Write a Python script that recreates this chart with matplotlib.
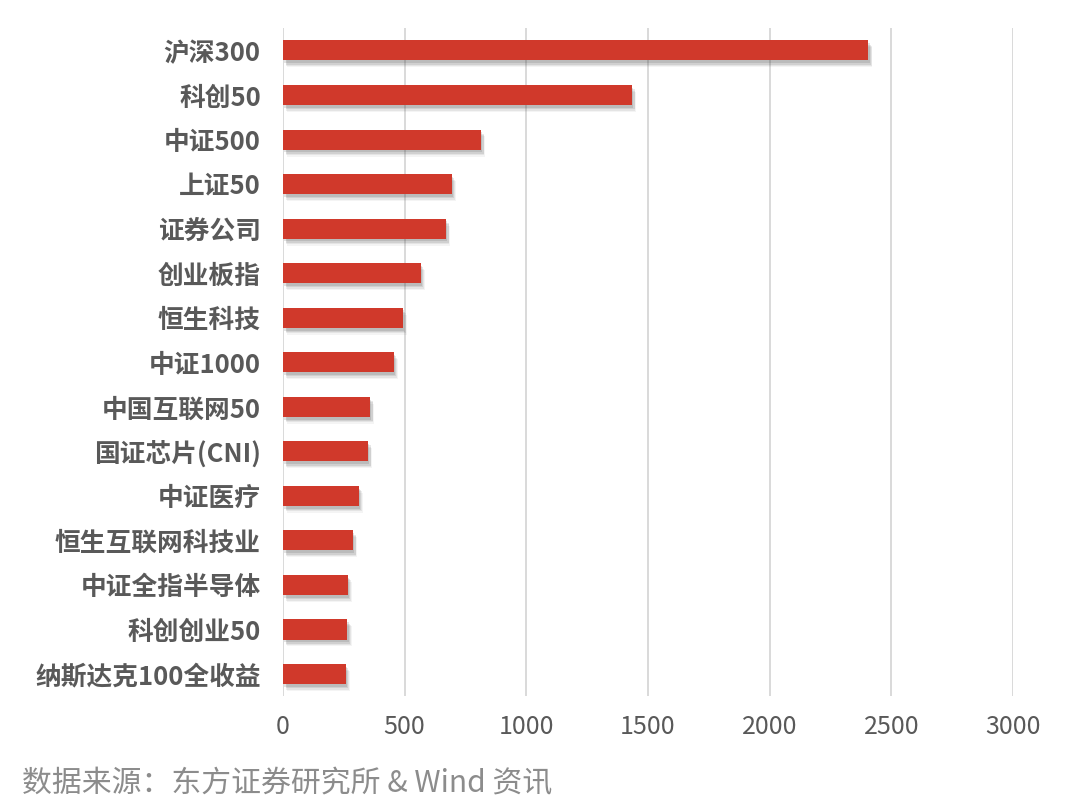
import numpy as np
import matplotlib
matplotlib.use('Agg')
import matplotlib.pyplot as plt
import matplotlib.patheffects as pe

plt.rcParams['font.family'] = ['Noto Sans CJK SC', 'DejaVu Sans']

# data, top to bottom as in the picture
names = ['沪深300', '科创50', '中证500', '上证50', '证券公司', '创业板指', '恒生科技',
         '中证1000', '中国互联网50', '国证芯片(CNI)', '中证医疗', '恒生互联网科技业',
         '中证全指半导体', '科创创业50', '纳斯达克100全收益']
values = [2405, 1434, 813, 693, 670, 566, 492, 455, 357, 349, 311, 287, 266, 265, 257]
xticks = [0, 500, 1000, 1500, 2000, 2500, 3000]

fig = plt.figure(figsize=(10.8, 8.05), dpi=100)
ax = fig.add_axes([0.262, 0.135, 0.676, 0.83])

y = np.arange(len(names))[::-1]
bars = ax.barh(y, values, height=0.45, color='#d0392b', zorder=3)
# soft drop shadow, built from a few faint offset copies
shadow = [pe.SimplePatchShadow(offset=(dx, -dy), shadow_rgbFace='#444444', alpha=a)
          for dx, dy, a in [(3, 5, 0.06), (2.5, 4, 0.09), (2, 3, 0.12), (1, 2, 0.15)]]
for b in bars:
    b.set_path_effects(shadow + [pe.Normal()])

ax.set_xlim(0, 3000)
ax.set_ylim(-0.5, len(names) - 0.5)
ax.set_xticks(xticks)
ax.set_xticklabels([str(t) for t in xticks])
ax.set_yticks(y)
ax.set_yticklabels(names, fontweight='bold')
ax.xaxis.grid(True, color='#d9d9d9', linewidth=1.4, zorder=0)
ax.set_axisbelow(True)
for s in ax.spines.values():
    s.set_visible(False)
ax.tick_params(axis='x', length=0, pad=13, labelsize=18, labelcolor='#595959')
ax.tick_params(axis='y', length=0, pad=16, labelsize=18.5, labelcolor='#595959')

fig.text(0.02, 0.027, '数据来源：东方证券研究所 & Wind 资讯', fontsize=21.5, color='#8c8c8c',
         ha='left', va='center')

fig.savefig('out.png', dpi=100)
